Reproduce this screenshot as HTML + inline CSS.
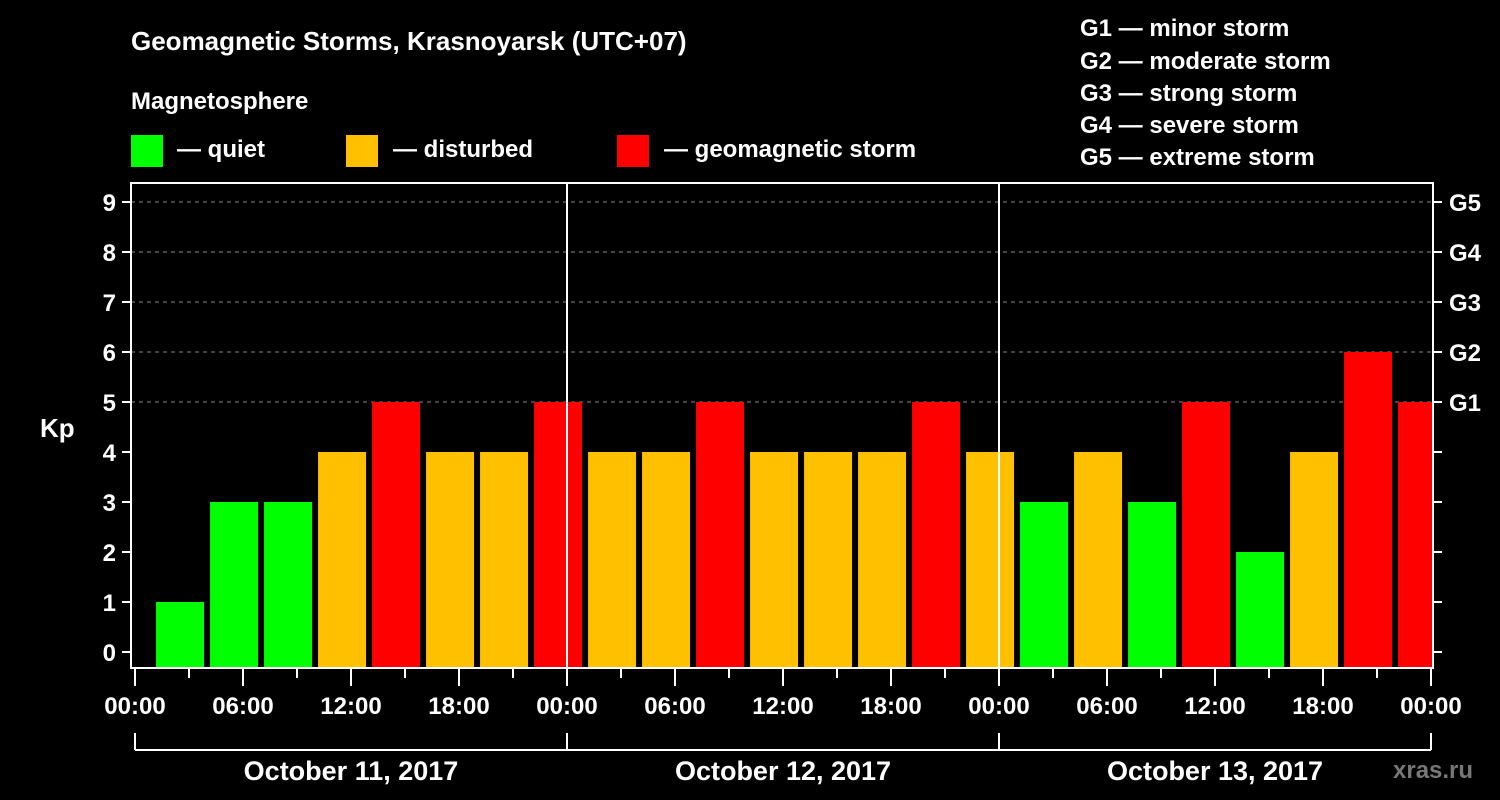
<!DOCTYPE html>
<html><head><meta charset="utf-8"><style>
body{margin:0;background:#000;width:1500px;height:800px;overflow:hidden}
svg{display:block;font-family:"Liberation Sans",Arial,sans-serif;font-weight:bold}
</style></head><body>
<svg id="c" width="1500" height="800">
<text x="131" y="50" fill="#fff" font-size="26">Geomagnetic Storms, Krasnoyarsk (UTC+07)</text>
<text x="131" y="109" fill="#fff" font-size="24">Magnetosphere</text>
<g>
<rect x="131" y="135" width="32" height="32" fill="#00ff00"/>
<text x="177" y="157" fill="#fff" font-size="24">— quiet</text>
<rect x="346" y="135" width="32" height="32" fill="#ffc000"/>
<text x="393" y="157" fill="#fff" font-size="24">— disturbed</text>
<rect x="617" y="135" width="32" height="32" fill="#ff0000"/>
<text x="664" y="157" fill="#fff" font-size="24">— geomagnetic storm</text>
</g>
<g fill="#fff" font-size="24">
<text x="1080" y="36">G1 — minor storm</text>
<text x="1080" y="69">G2 — moderate storm</text>
<text x="1080" y="101">G3 — strong storm</text>
<text x="1080" y="133">G4 — severe storm</text>
<text x="1080" y="165">G5 — extreme storm</text>
</g>
<text x="40" y="437" fill="#fff" font-size="26">Kp</text>
<text x="1393" y="778" fill="#777" font-size="24">xras.ru</text>
<g id="plot"></g>
</svg>
<script>
const kpValues=[1,3,3,4,5,4,4,5, 4,4,5,4,4,4,5,4, 3,4,3,5,2,4,6,5];
const yTicks=[0,1,2,3,4,5,6,7,8,9];
const gLabels=["G1","G2","G3","G4","G5"];
const xTickLabels=["00:00","06:00","12:00","18:00","00:00","06:00","12:00","18:00","00:00","06:00","12:00","18:00","00:00"];
const dayLabels=["October 11, 2017","October 12, 2017","October 13, 2017"];
const NS="http://www.w3.org/2000/svg";
const L=131,R=1433,T=183,B=668;
const xH=h=>135+18*h;
const yV=v=>652-50*v;
const plot=document.getElementById('plot');
function mk(tag,a,txt){const e=document.createElementNS(NS,tag);for(const k in a)e.setAttribute(k,a[k]);if(txt!=null)e.textContent=txt;plot.appendChild(e);return e;}
// gridlines
for(let v=5;v<=9;v++){const g=mk('line',{x1:L,x2:R,y1:yV(v),y2:yV(v),stroke:'#888','stroke-width':1,'stroke-dasharray':'4,4'});

}
// bars
kpValues.forEach((v,i)=>{const x0=xH(3*i+1.17);const x1=Math.min(x0+48,R-1);
const col=v<=3?'#00ff00':(v==4?'#ffc000':'#ff0000');
const r=mk('rect',{x:x0,y:yV(v),width:x1-x0,height:B-1-yV(v),fill:col});

});
// day separators
[1,2].forEach(d=>{const l=mk('line',{x1:xH(24*d),x2:xH(24*d),y1:T,y2:B,stroke:'#fff','stroke-width':2});

});
// frame
const f=mk('rect',{x:L,y:T,width:R-L,height:B-T,fill:'none',stroke:'#fff','stroke-width':2});


// y ticks
yTicks.forEach(v=>{mk('line',{x1:L-9,x2:L,y1:yV(v),y2:yV(v),stroke:'#fff','stroke-width':2});
mk('line',{x1:R,x2:R+9,y1:yV(v),y2:yV(v),stroke:'#fff','stroke-width':2});
const t=mk('text',{x:116,y:yV(v)+9,fill:'#fff','font-size':24,'text-anchor':'end'},String(v));

});
gLabels.forEach((g,i)=>{const t=mk('text',{x:1449,y:yV(5+i)+9,fill:'#fff','font-size':24},g);

});
// x ticks
for(let k=0;k<=24;k++){const x=xH(3*k);mk('line',{x1:x,x2:x,y1:B,y2:k%2?678:686,stroke:'#fff','stroke-width':2});}
xTickLabels.forEach((s,i)=>{const t=mk('text',{x:xH(6*i),y:714,fill:'#fff','font-size':24,'text-anchor':'middle'},s);

});
// day brackets
mk('line',{x1:xH(0),x2:xH(72),y1:750,y2:750,stroke:'#fff','stroke-width':2});
for(let d=0;d<=3;d++)mk('line',{x1:xH(24*d),x2:xH(24*d),y1:733,y2:750,stroke:'#fff','stroke-width':2});
dayLabels.forEach((s,i)=>{const t=mk('text',{x:xH(24*i+12),y:780,fill:'#fff','font-size':27,'text-anchor':'middle'},s);

});
</script>
</body></html>
